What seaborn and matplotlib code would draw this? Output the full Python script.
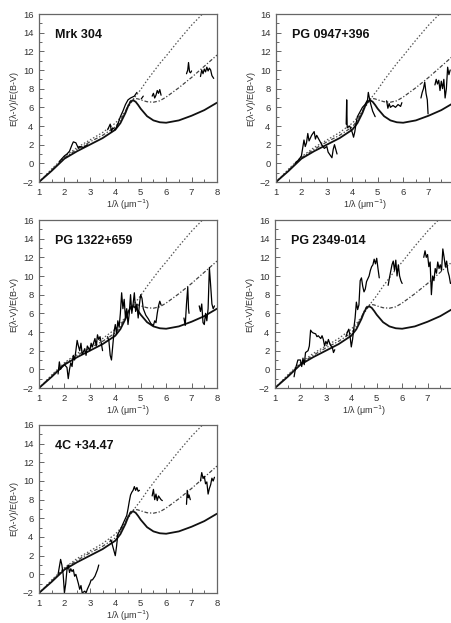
import numpy as np
import pandas as pd
import matplotlib
matplotlib.use("Agg")
import matplotlib.pyplot as plt
import seaborn as sns

# ---------------- model extinction curves ----------------
model_x = [1.0, 1.5, 2.0, 2.5, 3.0, 3.5, 4.0, 4.2, 4.4, 4.5, 4.6, 4.7, 4.8, 4.9, 5.0, 5.25, 5.5,
           5.75, 6.0, 6.5, 7.0, 7.5, 8.0]
model_solid = [-2.0, -0.8, 0.5, 1.3, 2.0, 2.7, 3.6, 4.3, 5.4, 6.1, 6.6, 6.75, 6.6, 6.25, 5.85,
               5.05, 4.6, 4.4, 4.35, 4.6, 5.1, 5.7, 6.5]
model_dashdot = [-2.0, -0.7, 0.6, 1.5, 2.3, 3.0, 3.9, 4.6, 5.6, 6.2, 6.7, 6.9, 6.95, 6.9, 6.8,
                 6.6, 6.55, 6.7, 7.1, 8.1, 9.2, 10.4, 11.6]
model_dotted = [-2.0, -0.6, 0.7, 1.7, 2.5, 3.3, 4.3, 4.9, 5.6, 6.0, 6.4, 6.8, 7.2, 7.55, 7.9,
                8.9, 9.8, 10.7, 11.5, 13.2, 14.8, 16.2, 17.6]

# ---------------- observed data (segment id, x, y) ----------------
mrk304_seg = [0]*12 + [1]*13 + [2]*2 + [3]*8 + [4]*6 + [5]*11
mrk304_x = [1.8, 1.9, 2.0, 2.1, 2.2, 2.3, 2.35, 2.45, 2.55, 2.6, 2.75, 2.9,
            3.7, 3.8, 3.85, 3.9, 4.0, 4.1, 4.2, 4.3, 4.4, 4.5, 4.6, 4.75, 4.85,
            5.02, 5.1,
            5.45, 5.5, 5.55, 5.6, 5.65, 5.7, 5.75, 5.8,
            6.8, 6.85, 6.88, 6.92, 6.96, 7.0,
            7.35, 7.4, 7.45, 7.5, 7.55, 7.6, 7.65, 7.7, 7.75, 7.8, 7.87]
mrk304_y = [0.2, 0.5, 0.8, 1.0, 1.3, 2.0, 2.3, 2.2, 1.6, 1.8, 1.7, 2.0,
            3.6, 4.2, 3.4, 3.8, 3.6, 4.2, 5.0, 5.6, 6.3, 6.8, 7.0, 7.2, 7.6,
            6.9, 7.2,
            7.2, 7.5, 7.0, 7.3, 7.8, 7.5, 7.9, 7.3,
            9.6, 10.0, 10.8, 9.8, 9.7, 9.9,
            9.3, 10.0, 9.6, 10.1, 9.8, 10.3, 9.9, 10.2, 10.0, 9.4, 9.1]

pg0947_seg = [0]*22 + [1]*17 + [2]*9 + [3]*7 + [4]*13
pg0947_x = [1.75, 1.9, 2.0, 2.1, 2.15, 2.2, 2.25, 2.3, 2.4, 2.5, 2.55, 2.6, 2.7, 2.8, 2.9, 3.0,
            3.05, 3.1, 3.2, 3.25, 3.3, 3.4,
            3.76, 3.78, 3.8, 3.9, 4.0, 4.05, 4.1, 4.15, 4.2, 4.3, 4.4, 4.5, 4.6, 4.63, 4.7, 4.8, 4.9,
            5.35, 5.4, 5.45, 5.5, 5.6, 5.7, 5.8, 5.9, 5.95,
            6.7, 6.75, 6.8, 6.85, 6.9, 6.95, 6.98,
            7.25, 7.3, 7.35, 7.4, 7.45, 7.5, 7.55, 7.6, 7.65, 7.7, 7.75, 7.8, 7.85]
pg0947_y = [0.0, 0.4, 0.8, 2.5, 1.8, 2.2, 3.2, 2.4, 3.0, 3.4, 2.6, 3.0, 2.5, 2.0, 1.6, 1.8,
            1.2, 1.0, 0.6, 1.5, 2.0, 1.0,
            4.2, 6.8, 3.8, 4.0, 3.3, 2.8, 3.4, 4.3, 5.0, 5.5, 6.0, 6.3, 6.8, 7.6, 6.6, 5.6, 5.0,
            6.7, 5.9, 6.4, 6.0, 6.2, 6.0, 6.3, 6.1, 6.5,
            7.0, 7.6, 8.0, 8.7, 7.5, 6.8, 5.3,
            8.4, 9.0, 8.5, 8.9, 7.8, 8.8, 8.0, 9.0, 7.0, 8.0, 10.3, 9.5, 10.0]

pg1322_seg = [0]*31 + [1]*39 + [2]*6 + [3]*13
pg1322_x = [1.75, 1.8, 1.85, 1.9, 2.0, 2.1, 2.15, 2.2, 2.25, 2.3, 2.35, 2.4, 2.45, 2.5, 2.55,
            2.6, 2.65, 2.7, 2.8, 2.85, 2.9, 3.0, 3.05, 3.1, 3.2, 3.25, 3.3, 3.35, 3.4, 3.45, 3.5,
            3.7, 3.75, 3.8, 3.85, 3.9, 3.95, 4.0, 4.05, 4.1, 4.15, 4.2, 4.25, 4.3, 4.35, 4.4,
            4.45, 4.5, 4.55, 4.6, 4.65, 4.7, 4.75, 4.8, 4.85, 4.9, 4.95, 5.0, 5.05, 5.1, 5.2,
            5.3, 5.4, 5.5, 5.55, 5.6, 5.65, 5.7, 5.75, 5.8,
            6.7, 6.75, 6.8, 6.85, 6.88, 6.9,
            7.3, 7.35, 7.4, 7.45, 7.5, 7.55, 7.6, 7.65, 7.7, 7.75, 7.8, 7.85, 7.9]
pg1322_y = [-0.5, 0.8, 0.0, 0.3, 0.5, 0.2, -1.0, 0.0, 0.7, 0.3, 1.5, 1.0, 2.0, 3.1, 2.5,
            2.0, 2.8, 1.6, 2.2, 1.5, 2.5, 2.0, 2.8, 2.4, 3.3, 2.5, 3.7, 3.2, 3.5, 2.8, 2.0,
            3.5, 3.0, 1.5, 1.0, 2.5, 4.0, 4.8, 3.8, 5.2, 4.5, 6.0, 8.2, 6.5, 7.5, 5.5,
            6.5, 4.8, 6.0, 8.0, 6.0, 7.0, 8.2, 6.2, 7.0, 5.5, 7.0, 8.0, 7.6, 6.5, 5.8,
            5.4, 4.9, 4.7, 5.2, 5.0, 6.0, 6.8, 7.3, 6.9,
            5.5, 4.7, 7.0, 8.8, 6.5, 6.0,
            6.8, 6.2, 7.0, 5.0, 4.8, 6.0, 5.2, 6.5, 10.9, 9.0, 7.0, 6.5, 6.8]

pg2349_seg = [0]*29 + [1]*26 + [2]*12 + [3]*23
pg2349_x = [1.75, 1.8, 1.85, 1.9, 2.0, 2.05, 2.1, 2.15, 2.2, 2.3, 2.35, 2.4, 2.45, 2.5, 2.6,
            2.65, 2.7, 2.8, 2.85, 2.9, 2.95, 3.0, 3.05, 3.1, 3.15, 3.2, 3.25, 3.3, 3.35,
            3.8, 3.85, 3.9, 3.95, 4.0, 4.05, 4.1, 4.15, 4.2, 4.25, 4.3, 4.35, 4.4, 4.45, 4.5,
            4.55, 4.6, 4.7, 4.75, 4.8, 4.85, 4.9, 4.95, 5.0, 5.05, 5.1,
            5.45, 5.5, 5.55, 5.6, 5.65, 5.7, 5.75, 5.8, 5.85, 5.9, 5.95, 6.0,
            6.85, 6.9, 6.95, 7.0, 7.05, 7.1, 7.15, 7.2, 7.25, 7.3, 7.35, 7.4, 7.45, 7.5, 7.55,
            7.6, 7.65, 7.7, 7.75, 7.8, 7.85, 7.9, 7.95]
pg2349_y = [-0.8, 0.0, 0.5, 1.0, 1.0, 0.3, 1.2, 0.5, 1.8, 2.0, 2.5, 4.2, 4.0, 3.9, 3.8,
            3.5, 3.6, 3.3, 3.6, 3.2, 2.5, 3.0, 2.7, 3.2, 2.8, 2.5, 2.4, 1.8, 2.1,
            3.6, 4.0, 4.3, 3.6, 2.4, 3.2, 4.4, 5.5, 7.2, 6.4, 6.9, 9.5, 9.8, 8.9, 8.3,
            8.6, 9.4, 10.0, 10.6, 11.0, 11.2, 11.8, 11.3, 11.9, 10.8, 9.8,
            9.0, 9.8, 10.5, 11.2, 11.6, 10.6, 11.7, 10.0, 11.2, 10.0, 9.5, 9.2,
            12.0, 12.7, 12.0, 12.3, 11.0, 11.5, 8.0, 10.0, 9.5, 10.8, 10.3, 11.5, 10.8, 11.2, 10.6,
            12.9, 12.0, 11.0, 11.6, 10.5, 10.0, 9.2, 9.3]

c4_seg = [0]*29 + [1]*21 + [2]*9 + [3]*5 + [4]*12
c4_x = [1.75, 1.8, 1.85, 1.9, 1.95, 2.0, 2.05, 2.1, 2.15, 2.2, 2.25, 2.3, 2.35, 2.4, 2.45,
        2.5, 2.55, 2.6, 2.65, 2.7, 2.8, 2.85, 2.9, 3.0, 3.05, 3.1, 3.2, 3.3, 3.35,
        3.8, 3.85, 3.9, 3.95, 4.0, 4.05, 4.1, 4.2, 4.3, 4.4, 4.45, 4.5, 4.55, 4.6, 4.65,
        4.7, 4.75, 4.8, 4.85, 4.9, 4.95,
        5.45, 5.5, 5.55, 5.6, 5.65, 5.7, 5.75, 5.8, 5.85,
        6.8, 6.83, 6.87, 6.9, 6.95,
        7.35, 7.4, 7.45, 7.5, 7.55, 7.6, 7.65, 7.7, 7.75, 7.8, 7.85, 7.9]
c4_y = [0.0, 0.8, 1.6, 1.0, 0.0, -2.0, -1.0, 0.5, 1.0, 0.2, 0.6, 0.3, 0.5, -0.2, 0.0,
        -0.5, -1.0, -1.6, -1.2, -2.0, -1.8, -2.0, -1.6, -1.0, -0.6, -0.6, -0.2, 0.5, 1.0,
        3.7, 3.5, 3.0, 2.5, 2.0, 3.0, 4.3, 4.8, 5.4, 6.0, 6.3, 7.0, 7.8, 8.5, 8.8,
        9.0, 9.4, 9.0, 9.3, 8.9, 9.0,
        8.4, 9.1, 8.0, 8.6, 7.9, 8.4, 8.2, 8.0, 7.9,
        7.5, 9.0, 8.2, 8.5, 8.0,
        10.0, 10.9, 10.3, 10.5, 9.7, 9.9, 8.6, 9.2, 9.6, 10.3, 10.0, 10.4]

panel_names = ["Mrk 304", "PG 0947+396", "PG 1322+659", "PG 2349-014", "4C +34.47"]
panel_data = [(mrk304_seg, mrk304_x, mrk304_y), (pg0947_seg, pg0947_x, pg0947_y),
              (pg1322_seg, pg1322_x, pg1322_y), (pg2349_seg, pg2349_x, pg2349_y),
              (c4_seg, c4_x, c4_y)]
y_ticks = [-2, 0, 2, 4, 6, 8, 10, 12, 14, 16]
x_ticks = [1, 2, 3, 4, 5, 6, 7, 8]

# ---------------- figure ----------------
sns.set_theme(style="ticks")
plt.rcParams['font.family'] = ['Liberation Sans', 'DejaVu Sans']

W, H = 452, 623
fig = plt.figure(figsize=(W / 100, H / 100), dpi=100)
fig.patch.set_facecolor("white")

# axes boxes in pixels: (left, top, right-column flag)
boxes = [(39, 14, False), (276, 14, True), (39, 220, False), (275, 220, True), (39, 425, False)]
aw, ah = 178, 168

model_df = pd.DataFrame({"x": model_x, "solid": model_solid,
                         "dashdot": model_dashdot, "dotted": model_dotted})

spine_col = "#666666"
for (left, top, right_col), name, (seg, xs, ys) in zip(boxes, panel_names, panel_data):
    ax = fig.add_axes([left / W, 1 - (top + ah) / H, aw / W, ah / H])
    sns.lineplot(data=model_df, x="x", y="dotted", ax=ax, color="#555555",
                 lw=0.9, linestyle=(0, (1.2, 1.6)), sort=False)
    sns.lineplot(data=model_df, x="x", y="dashdot", ax=ax, color="#444444",
                 lw=0.9, linestyle=(0, (3, 1.5, 1, 1.5)), sort=False)
    sns.lineplot(data=model_df, x="x", y="solid", ax=ax, color="#111111",
                 lw=1.3, sort=False)
    df = pd.DataFrame({"seg": seg, "x": xs, "y": ys})
    sns.lineplot(data=df, x="x", y="y", units="seg", estimator=None, ax=ax,
                 color="black", lw=0.9, sort=False)
    ax.set_xlim(1, 8)
    ax.set_ylim(-2, 16)
    ax.set_xticks(x_ticks)
    if right_col:
        ax.set_xticklabels([str(t) if t < 8 else "" for t in x_ticks])
    ax.set_yticks(y_ticks)
    ax.set_xticks(np.arange(1.5, 8, 1.0), minor=True)
    ax.set_yticks(np.arange(-1, 16, 1.0), minor=True)
    ax.tick_params(which="both", direction="in", top=False, right=False,
                   color=spine_col, width=0.7)
    ax.tick_params(which="major", length=3.5, labelsize=6.8, labelcolor="#333333", pad=4)
    ax.tick_params(which="minor", length=2)
    for s in ax.spines.values():
        s.set_color(spine_col)
        s.set_linewidth(0.9)
    ax.set_xlabel("1/λ (μm$^{-1}$)", fontsize=6.5, color="#333333", labelpad=1)
    ax.set_ylabel("E(λ-V)/E(B-V)", fontsize=6.5, color="#333333", labelpad=3)
    ax.text(0.09, 0.86, name, transform=ax.transAxes, fontsize=9,
            fontweight="bold", color="#111111")
    ax.set_facecolor("white")

fig.savefig("out.png", dpi=100, facecolor="white")
